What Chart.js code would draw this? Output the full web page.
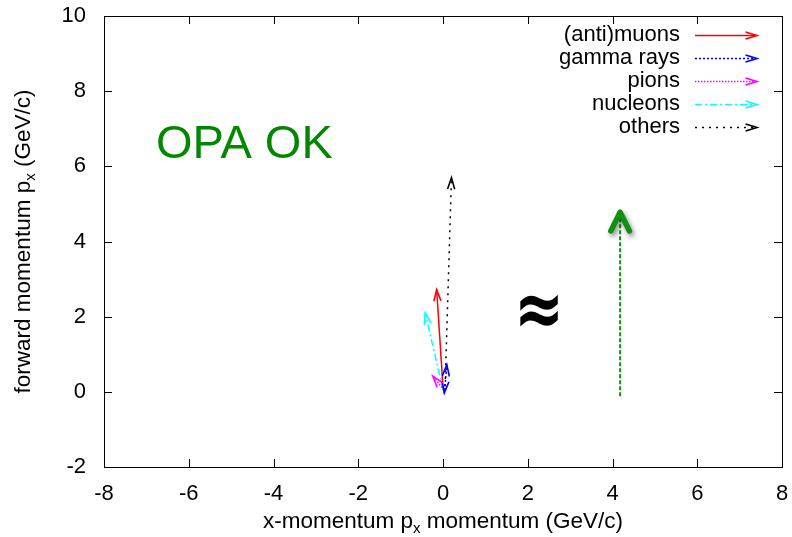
<!DOCTYPE html>
<html>
<head>
<meta charset="utf-8">
<script src="https://cdn.jsdelivr.net/npm/chart.js@4/dist/chart.umd.min.js"></script>
<style>
  html, body { margin: 0; padding: 0; background: #fff; }
  #wrap { width: 792px; height: 537px; }
</style>
</head>
<body>
<div id="wrap"><canvas id="c"></canvas></div>
<script>
// Momentum vectors per particle class, each entry [x0, y0, x1, y1] in GeV/c
const muonArrows    = [[0.00, 0.12, -0.15, 2.72]];
const gammaArrows   = [[0.04, 0.05, 0.09, 0.72], [0.05, 0.20, 0.03, -0.03]];
const pionArrows    = [[0.02, 0.05, -0.24, 0.42]];
const nucleonArrows = [[0.00, 0.05, -0.42, 2.10]];
const otherArrows   = [[0.05, 0.15, 0.20, 5.70]];
const beamArrow     = [[4.18, -0.12, 4.18, 4.78]];

const seriesNames = ['(anti)muons', 'gamma rays', 'pions', 'nucleons', 'others'];
const xTicks = [-8, -6, -4, -2, 0, 2, 4, 6, 8];
const yTicks = [-2, 0, 2, 4, 6, 8, 10];
const xTitle = ['x-momentum p', 'x', ' momentum (GeV/c)'];
const yTitle = ['forward momentum p', 'x', ' (GeV/c)'];
const annotation = 'OPA OK';

const FONT = '"Liberation Sans", Arial, Helvetica, sans-serif';

// line style per particle class
const styles = [
  { color: '#ff0000', dash: [],           width: 1.5 },
  { color: '#0000ff', dash: [2, 2],       width: 1.5 },
  { color: '#ff00ff', dash: [1.5, 1.5],   width: 1.5 },
  { color: '#00ffff', dash: [7, 3, 2, 3], width: 1.5 },
  { color: '#000000', dash: [2, 5],       width: 1.5 }
];
const groups = [muonArrows, gammaArrows, pionArrows, nucleonArrows, otherArrows];

const datasets = [];
groups.forEach((arrows, gi) => {
  arrows.forEach(a => {
    datasets.push({
      label: seriesNames[gi],
      data: [{ x: a[0], y: a[1] }, { x: a[2], y: a[3] }],
      showLine: true,
      borderColor: styles[gi].color,
      borderWidth: styles[gi].width,
      borderDash: styles[gi].dash,
      pointRadius: 0,
      arrowStyle: gi
    });
  });
});
beamArrow.forEach(a => {
  datasets.push({
    label: 'beam',
    data: [{ x: a[0], y: a[1] }, { x: a[2], y: a[3] }],
    showLine: true,
    borderColor: '#119011',
    borderWidth: 2,
    borderDash: [4, 2],
    pointRadius: 0,
    arrowStyle: 'beam'
  });
});

function openHead(ctx, x0, y0, x1, y1, len, ang) {
  const th = Math.atan2(y1 - y0, x1 - x0);
  ctx.beginPath();
  ctx.moveTo(x1 - len * Math.cos(th - ang), y1 - len * Math.sin(th - ang));
  ctx.lineTo(x1, y1);
  ctx.lineTo(x1 - len * Math.cos(th + ang), y1 - len * Math.sin(th + ang));
  ctx.stroke();
}

const decorPlugin = {
  id: 'decor',
  beforeDatasetsDraw(chart) {
    const { ctx, chartArea: a, scales } = chart;
    ctx.save();
    ctx.strokeStyle = '#000';
    ctx.lineWidth = 1;
    ctx.strokeRect(a.left + 0.5, a.top + 0.5, a.right - a.left, a.bottom - a.top);
    const tl = 8;
    ctx.beginPath();
    xTicks.forEach(v => {
      const px = Math.round(scales.x.getPixelForValue(v)) + 0.5;
      if (px <= a.left + 1 || px >= a.right - 1) return;
      ctx.moveTo(px, a.bottom); ctx.lineTo(px, a.bottom - tl);
      ctx.moveTo(px, a.top); ctx.lineTo(px, a.top + tl);
    });
    yTicks.forEach(v => {
      const py = Math.round(scales.y.getPixelForValue(v)) + 0.5;
      if (py <= a.top + 1 || py >= a.bottom - 1) return;
      ctx.moveTo(a.left, py); ctx.lineTo(a.left + tl, py);
      ctx.moveTo(a.right, py); ctx.lineTo(a.right - tl, py);
    });
    ctx.stroke();
    ctx.restore();
  },
  afterDatasetsDraw(chart) {
    const { ctx, chartArea: a } = chart;
    ctx.save();
    // arrow heads
    chart.data.datasets.forEach((ds, i) => {
      const meta = chart.getDatasetMeta(i);
      const p0 = meta.data[0], p1 = meta.data[1];
      if (!p0 || !p1) return;
      if (ds.arrowStyle === 'beam') {
        ctx.save();
        ctx.shadowColor = 'rgba(0,0,0,0.45)';
        ctx.shadowBlur = 5;
        ctx.shadowOffsetX = 2;
        ctx.shadowOffsetY = 3;
        ctx.strokeStyle = ds.borderColor;
        ctx.lineWidth = 5.5;
        ctx.lineCap = 'round';
        ctx.lineJoin = 'round';
        ctx.setLineDash([]);
        openHead(ctx, p0.x, p0.y, p1.x, p1.y, 21, 0.46);
        ctx.restore();
      } else {
        ctx.strokeStyle = ds.borderColor;
        ctx.lineWidth = 1.6;
        ctx.setLineDash([]);
        openHead(ctx, p0.x, p0.y, p1.x, p1.y, 12, 0.3);
      }
    });

    // legend, text right-aligned with a sample arrow to its right
    ctx.font = '22px ' + FONT;
    ctx.textAlign = 'right';
    ctx.textBaseline = 'middle';
    seriesNames.forEach((name, i) => {
      const y = 35 + i * 23;
      ctx.fillStyle = '#000';
      ctx.fillText(name, 680, y);
      const s = styles[i];
      ctx.strokeStyle = s.color;
      ctx.lineWidth = s.width;
      ctx.setLineDash(s.dash);
      ctx.beginPath();
      ctx.moveTo(695, y + 0.5); ctx.lineTo(756, y + 0.5);
      ctx.stroke();
      ctx.setLineDash([]);
      ctx.lineWidth = 1.6;
      openHead(ctx, 695, y + 0.5, 757, y + 0.5, 12, 0.3);
    });

    // annotation text
    ctx.fillStyle = '#008800';
    ctx.font = '47px ' + FONT;
    ctx.textAlign = 'left';
    ctx.textBaseline = 'alphabetic';
    ctx.fillText(annotation, 156, 158);

    // approximately-equal sign
    ctx.save();
    ctx.translate(539, 315);
    ctx.scale(1.15, 1.5);
    ctx.fillStyle = '#000';
    ctx.font = 'bold 52px "DejaVu Sans", sans-serif';
    ctx.textAlign = 'center';
    ctx.textBaseline = 'middle';
    ctx.fillText('\u2248', 0, 0);
    ctx.restore();

    // axis titles with subscripts
    function drawSub(parts, cx, cy) {
      const big = '22.5px ' + FONT, small = '15px ' + FONT;
      ctx.font = big; const w0 = ctx.measureText(parts[0]).width;
      ctx.font = small; const w1 = ctx.measureText(parts[1]).width;
      ctx.font = big; const w2 = ctx.measureText(parts[2]).width;
      let x = cx - (w0 + w1 + w2) / 2;
      ctx.textAlign = 'left';
      ctx.textBaseline = 'alphabetic';
      ctx.fillStyle = '#000';
      ctx.font = big; ctx.fillText(parts[0], x, cy); x += w0;
      ctx.font = small; ctx.fillText(parts[1], x, cy + 5); x += w1;
      ctx.font = big; ctx.fillText(parts[2], x, cy);
    }
    drawSub(xTitle, (a.left + a.right) / 2, 528);
    ctx.save();
    ctx.translate(30, (a.top + a.bottom) / 2);
    ctx.rotate(-Math.PI / 2);
    drawSub(yTitle, 0, 0);
    ctx.restore();

    ctx.restore();
  }
};

new Chart(document.getElementById('c'), {
  type: 'scatter',
  data: { datasets },
  options: {
    responsive: true,
    maintainAspectRatio: false,
    animation: false,
    layout: { padding: { top: 16, right: 10, left: 0, bottom: 0 } },
    plugins: { legend: { display: false }, tooltip: { enabled: false } },
    scales: {
      x: {
        type: 'linear', min: -8, max: 8,
        grid: { display: false, drawTicks: false },
        border: { display: false },
        afterBuildTicks: s => { s.ticks = xTicks.map(v => ({ value: v })); },
        afterFit: s => { s.height = 70; s.paddingLeft = 0; s.paddingRight = 0; },
        ticks: { color: '#000', padding: 14, maxRotation: 0, font: { size: 22, family: FONT } }
      },
      y: {
        type: 'linear', min: -2, max: 10,
        grid: { display: false, drawTicks: false },
        border: { display: false },
        afterBuildTicks: s => { s.ticks = yTicks.map(v => ({ value: v })); },
        afterFit: s => { s.width = 104; s.paddingTop = 0; s.paddingBottom = 0; },
        ticks: { color: '#000', padding: 18, font: { size: 22, family: FONT } }
      }
    }
  },
  plugins: [decorPlugin]
});
</script>
</body>
</html>
